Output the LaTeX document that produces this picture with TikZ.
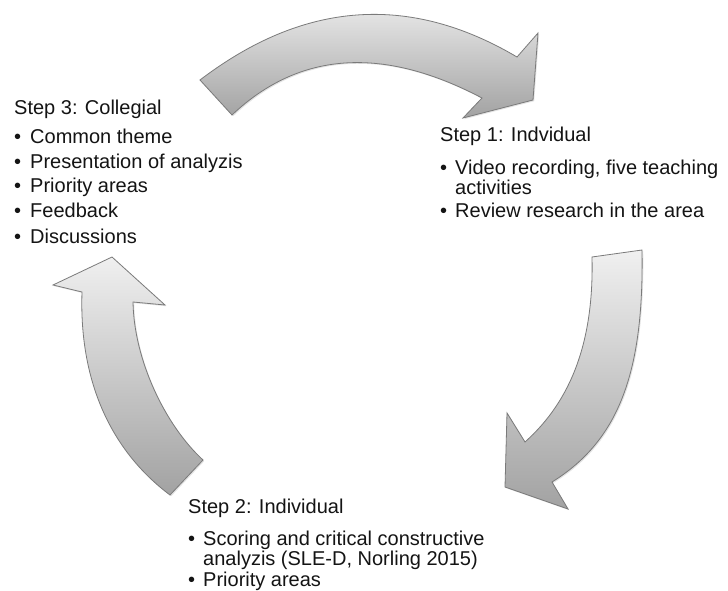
\documentclass[tikz,border=0pt]{standalone}
\usepackage{fontspec}
\setmainfont{Liberation Sans}
\usetikzlibrary{shadows}
\definecolor{txtc}{HTML}{141414}
\definecolor{arrlight}{HTML}{F0F0F0}
\definecolor{arrdark}{HTML}{A2A2A2}
\definecolor{arredge}{HTML}{7A7A7A}
\begin{document}
\begin{tikzpicture}[x=1pt,y=-1pt,
  txt/.style={font=\fontsize{20}{24}\selectfont, text=txtc, inner sep=0pt, anchor=base west},
  bigarrow/.style={draw=arredge, line width=0.8pt, top color=arrlight, bottom color=arrdark,
    line join=miter, drop shadow={shadow xshift=1.2pt, shadow yshift=-1.2pt, opacity=0.22}}]
\useasboundingbox (0,0) rectangle (728,591);
\clip (0,0) rectangle (728,591);
\fill[white] (0,0) rectangle (728,591);

% top arrow (Step 3 -> Step 1)
\path[bigarrow] (200,80) .. controls (303.7,1) and (409.3,-6.7) .. (517,57)
  -- (538,33) -- (533,100) -- (463,118) -- (482,98)
  .. controls (382.7,45.7) and (299.3,51.3) .. (232,115) -- cycle;

% right arrow (Step 1 -> Step 2)
\path[bigarrow] (642,250) .. controls (644,370) and (620,440) .. (552,482)
  -- (568,509) -- (505,487) -- (507,413) -- (525,442)
  .. controls (572,400) and (594,340) .. (592,257) -- cycle;

% left arrow (Step 2 -> Step 3)
\path[bigarrow] (170,495) .. controls (110,450) and (79,380) .. (82,292)
  -- (53,285) -- (112,257) -- (165,305) -- (133,302)
  .. controls (134,360) and (165,425) .. (203,460) -- cycle;

% Step 3
\node[txt] (s3) at (14,115) {Step 3: Collegial};
\node[txt] (s3b1) at (14,143) {•};
\node[txt] (s3t1) at (30,143) {Common theme};
\node[txt] (s3b2) at (14,168) {•};
\node[txt] (s3t2) at (30,168) {Presentation of analyzis};
\node[txt] (s3b3) at (14,192) {•};
\node[txt] (s3t3) at (30,192) {Priority areas};
\node[txt] (s3b4) at (14,217) {•};
\node[txt] (s3t4) at (30,217) {Feedback};
\node[txt] (s3b5) at (14,243) {•};
\node[txt] (s3t5) at (30,243) {Discussions};

% Step 1
\node[txt] (s1) at (440,142) {Step 1: Indvidual};
\node[txt] (s1b1) at (440,175) {•};
\node[txt] (s1t1) at (455,175) {Video recording, five teaching};
\node[txt] (s1t1b) at (455,194) {activities};
\node[txt] (s1b2) at (440,217) {•};
\node[txt] (s1t2) at (455,217) {Review research in the area};

% Step 2
\node[txt] (s2) at (188,513) {Step 2: Individual};
\node[txt] (s2b1) at (188,545) {•};
\node[txt] (s2t1) at (203,545) {Scoring and critical constructive};
\node[txt] (s2t1b) at (203,565) {analyzis (SLE-D, Norling 2015)};
\node[txt] (s2b2) at (188,586.5) {•};
\node[txt] (s2t2) at (203,586.5) {Priority areas};
\end{tikzpicture}
\end{document}
